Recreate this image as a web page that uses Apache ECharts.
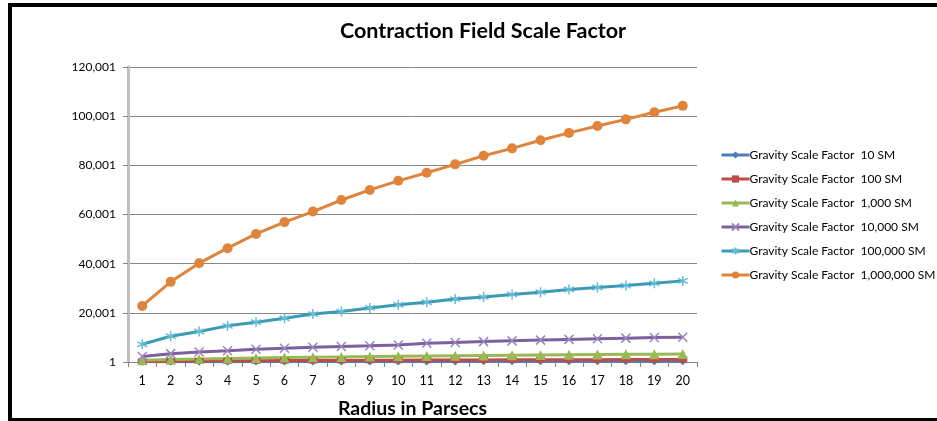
<!DOCTYPE html>
<html>
<head>
<meta charset="utf-8">
<script src="https://cdn.jsdelivr.net/npm/echarts@6/dist/echarts.min.js"></script>
<style>
html,body{margin:0;padding:0;background:#fff;}
#chart{width:937px;height:421px;}
</style>
</head>
<body>
<div id="chart"></div>
<script>
const categories = ['1','2','3','4','5','6','7','8','9','10','11','12','13','14','15','16','17','18','19','20'];
const yTickLabels = ['1','20,001','40,001','60,001','80,001','100,001','120,001'];
const seriesNames = [
  'Gravity Scale Factor  10 SM',
  'Gravity Scale Factor  100 SM',
  'Gravity Scale Factor  1,000 SM',
  'Gravity Scale Factor  10,000 SM',
  'Gravity Scale Factor  100,000 SM',
  'Gravity Scale Factor  1,000,000 SM'
];
const sm10 = [73, 103, 127, 147, 164, 180, 194, 208, 220, 232, 243, 254, 264, 274, 284, 293, 302, 311, 319, 328];
const sm100 = [230, 326, 400, 462, 516, 566, 612, 654, 694, 732, 768, 802, 835, 866, 896, 926, 954, 982, 1008, 1035];
const sm1000 = [730, 1030, 1270, 1470, 1640, 1800, 1940, 2080, 2200, 2320, 2430, 2540, 2640, 2740, 2840, 2930, 3020, 3110, 3190, 3280];
const sm10000 = [2200, 3400, 4100, 4600, 5150, 5600, 6000, 6300, 6600, 6950, 7600, 7950, 8300, 8600, 8900, 9200, 9450, 9700, 9950, 10100];
const sm100000 = [7200, 10500, 12400, 14700, 16200, 17800, 19500, 20500, 22000, 23300, 24300, 25600, 26400, 27500, 28400, 29500, 30300, 31100, 32000, 33000];
const sm1000000 = [22800, 32600, 40200, 46300, 52100, 56900, 61200, 65900, 70000, 73700, 77000, 80400, 83900, 86900, 90200, 93200, 96000, 98700, 101600, 104200];

const chart = echarts.init(document.getElementById('chart'));
const FONT = 'Lato';

function mkSeries(name, data, lineColor, markColor, symbol, size, extra) {
  return Object.assign({
    name: name,
    type: 'line',
    data: data,
    symbol: symbol,
    symbolSize: size,
    showAllSymbol: true,
    animation: false,
    lineStyle: {color: lineColor, width: 3},
    itemStyle: {color: markColor},
    emphasis: {disabled: true}
  }, extra || {});
}

const xPath = 'path://M0,0L10,10M10,0L0,10';
const starPath = 'path://M5,0L5,10M0,2.5L10,7.5M0,7.5L10,2.5';

chart.setOption({
  animation: false,
  backgroundColor: '#ffffff',
  title: {
    text: 'Contraction Field Scale Factor',
    left: 478, top: 15, textAlign: 'center',
    textStyle: {fontFamily: FONT, fontWeight: 'bold', fontSize: 21.5, color: '#000'}
  },
  grid: {left: 128, right: 240, top: 67, bottom: 59, containLabel: false, outerBoundsMode: 'none'},
  legend: {
    orient: 'vertical',
    left: 720, top: 149, padding: 0,
    itemWidth: 28, itemHeight: 9, itemGap: 12,
    lineStyle: {width: 3},
    textStyle: {fontFamily: FONT, fontSize: 12, color: '#000', padding: [0,0,0,-5]},
    data: seriesNames
  },
  xAxis: {
    type: 'category',
    data: categories,
    boundaryGap: true,
    name: 'Radius in Parsecs',
    nameLocation: 'middle',
    nameGap: 37,
    nameTextStyle: {fontFamily: FONT, fontWeight: 'bold', fontSize: 19.5, color: '#000'},
    axisLine: {lineStyle: {color: '#868686', width: 1}},
    axisTick: {show: true, length: 5, lineStyle: {color: '#868686'}},
    axisLabel: {fontFamily: FONT, fontSize: 12.5, color: '#000', margin: 12, interval: 0},
    splitLine: {show: false}
  },
  yAxis: {
    type: 'value',
    min: 0, max: 120000, interval: 20000,
    axisLine: {show: true, lineStyle: {color: '#bfbfbf', width: 3}},
    axisTick: {show: true, length: 5, lineStyle: {color: '#868686'}},
    axisLabel: {
      fontFamily: FONT, fontSize: 12, color: '#000', margin: 12,
      formatter: function (v) { return yTickLabels[Math.round(v / 20000)]; }
    },
    splitLine: {show: true, lineStyle: {color: '#868686', width: 1}}
  },
  series: [
    mkSeries(seriesNames[0], sm10, '#4A7EBB', '#4A7EBB', 'diamond', 8),
    mkSeries(seriesNames[1], sm100, '#BE4B48', '#BE4B48', 'rect', [9, 6]),
    mkSeries(seriesNames[2], sm1000, '#98B954', '#98B954', 'triangle', 10),
    mkSeries(seriesNames[3], sm10000, '#7D60A0', '#7D60A0', xPath, 9,
      {itemStyle: {color: '#7D60A0', borderColor: '#9A86BC', borderWidth: 1.5}}),
    mkSeries(seriesNames[4], sm100000, '#3B9BB6', '#3B9BB6', starPath, 10,
      {itemStyle: {color: '#4BACC6', borderColor: '#68BCD3', borderWidth: 1.5}}),
    mkSeries(seriesNames[5], sm1000000, '#E0843C', '#E0843C', 'circle', 10)
  ],
  graphic: [
    {type: 'rect', shape: {x: 8, y: 3, width: 940, height: 4}, style: {fill: '#000'}, silent: true},
    {type: 'rect', shape: {x: 8, y: 3, width: 4, height: 420}, style: {fill: '#000'}, silent: true},
    {type: 'rect', shape: {x: 8, y: 418, width: 940, height: 4}, style: {fill: '#000'}, silent: true}
  ]
});
</script>
</body>
</html>
